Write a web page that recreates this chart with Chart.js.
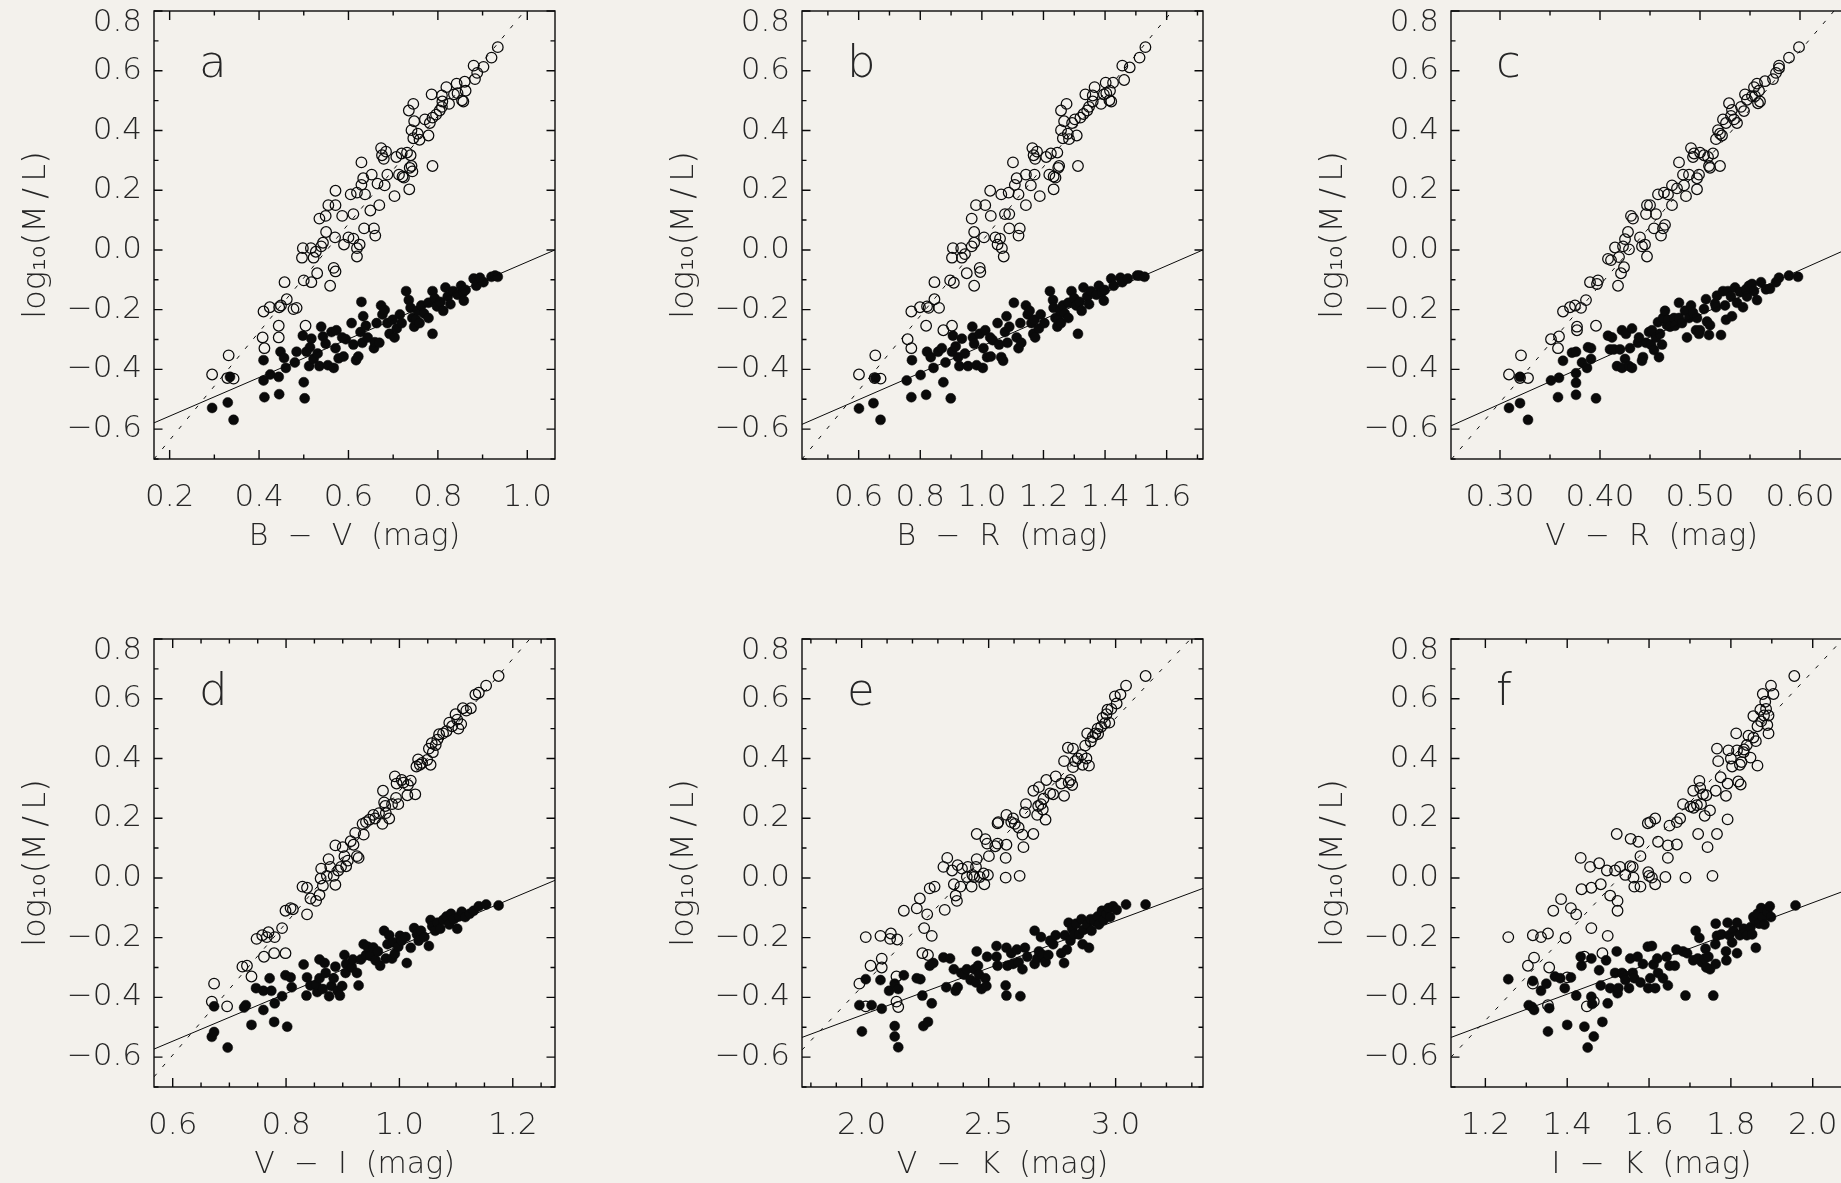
<!DOCTYPE html>
<html>
<head>
<meta charset="utf-8">
<script src="https://cdn.jsdelivr.net/npm/chart.js@4.4.1/dist/chart.umd.min.js"></script>
<style>
  html, body { margin: 0; padding: 0; }
  body { width: 1841px; height: 1183px; overflow: hidden; position: relative; background: #f3f1ec; }
  canvas { position: absolute; }
</style>
</head>
<body>
<canvas id="pa" width="648" height="628" style="left:0px;top:0px"></canvas>
<canvas id="pb" width="648" height="628" style="left:648px;top:0px"></canvas>
<canvas id="pc" width="648" height="628" style="left:1297px;top:0px"></canvas>
<canvas id="pd" width="648" height="628" style="left:0px;top:628px"></canvas>
<canvas id="pe" width="648" height="628" style="left:648px;top:628px"></canvas>
<canvas id="pf" width="648" height="628" style="left:1297px;top:628px"></canvas>
<script>
// ---- shared y axis ----
const yTicks = [-0.6, -0.4, -0.2, 0.0, 0.2, 0.4, 0.6, 0.8];
const yRange = [-0.7, 0.8];
const yTitle = 'log\u2081\u2080(M\u2009/\u2009L)';

// ---- panel a : B - V ----
const aTicks = [0.2, 0.4, 0.6, 0.8, 1.0];
const aRange = [0.165, 1.062];
const aFitFilled = [[0.165, -0.579], [1.062, 0.0]];
const aFitOpen = [[0.165, -0.70], [0.994, 0.80]];
const aFilled = [[0.295,-0.529],[0.330,-0.511],[0.343,-0.569],[0.335,-0.425],[0.410,-0.437],[0.412,-0.493],[0.410,-0.369],[0.425,-0.417],[0.444,-0.425],[0.445,-0.483],[0.448,-0.341],[0.456,-0.362],[0.460,-0.395],[0.480,-0.377],[0.500,-0.443],[0.502,-0.497],[0.484,-0.341],[0.498,-0.287],[0.506,-0.341],[0.514,-0.326],[0.512,-0.389],[0.517,-0.297],[0.522,-0.365],[0.531,-0.347],[0.535,-0.389],[0.539,-0.257],[0.543,-0.290],[0.549,-0.314],[0.554,-0.386],[0.562,-0.275],[0.567,-0.395],[0.571,-0.329],[0.573,-0.269],[0.578,-0.363],[0.586,-0.293],[0.589,-0.357],[0.594,-0.299],[0.607,-0.245],[0.611,-0.317],[0.617,-0.369],[0.622,-0.357],[0.627,-0.275],[0.633,-0.222],[0.629,-0.174],[0.639,-0.254],[0.631,-0.311],[0.643,-0.293],[0.657,-0.329],[0.659,-0.309],[0.663,-0.245],[0.669,-0.311],[0.673,-0.186],[0.676,-0.216],[0.681,-0.201],[0.687,-0.245],[0.692,-0.281],[0.699,-0.234],[0.703,-0.293],[0.708,-0.263],[0.715,-0.216],[0.719,-0.245],[0.729,-0.138],[0.735,-0.168],[0.739,-0.194],[0.743,-0.228],[0.747,-0.257],[0.751,-0.234],[0.755,-0.204],[0.759,-0.245],[0.763,-0.186],[0.769,-0.213],[0.779,-0.177],[0.779,-0.228],[0.788,-0.281],[0.788,-0.138],[0.793,-0.162],[0.798,-0.189],[0.806,-0.174],[0.812,-0.204],[0.817,-0.126],[0.822,-0.156],[0.828,-0.182],[0.834,-0.138],[0.844,-0.150],[0.852,-0.120],[0.857,-0.141],[0.858,-0.170],[0.862,-0.134],[0.880,-0.096],[0.886,-0.120],[0.894,-0.093],[0.902,-0.108],[0.920,-0.090],[0.928,-0.086],[0.934,-0.090]];
const aOpen = [[0.295,-0.417],[0.332,-0.353],[0.329,-0.429],[0.343,-0.431],[0.408,-0.293],[0.412,-0.329],[0.410,-0.206],[0.424,-0.192],[0.445,-0.192],[0.449,-0.186],[0.444,-0.254],[0.444,-0.293],[0.457,-0.108],[0.462,-0.165],[0.477,-0.198],[0.484,-0.194],[0.500,-0.102],[0.504,-0.254],[0.498,0.006],[0.496,-0.026],[0.517,-0.108],[0.530,-0.078],[0.516,0.006],[0.522,-0.026],[0.527,-0.006],[0.539,0.012],[0.535,0.105],[0.549,0.114],[0.543,0.024],[0.550,0.060],[0.559,-0.120],[0.567,-0.060],[0.571,-0.072],[0.555,0.150],[0.571,0.150],[0.570,0.042],[0.571,0.198],[0.586,0.114],[0.590,0.018],[0.600,0.042],[0.605,0.186],[0.611,0.120],[0.611,0.038],[0.619,0.192],[0.619,0.006],[0.619,-0.022],[0.625,0.018],[0.629,0.293],[0.629,0.218],[0.633,0.240],[0.637,0.186],[0.635,0.072],[0.649,0.132],[0.652,0.252],[0.657,0.072],[0.660,0.048],[0.669,0.150],[0.665,0.222],[0.673,0.341],[0.675,0.317],[0.679,0.305],[0.681,0.216],[0.684,0.329],[0.687,0.252],[0.703,0.180],[0.707,0.311],[0.713,0.252],[0.719,0.323],[0.721,0.246],[0.724,0.242],[0.731,0.326],[0.736,0.203],[0.737,0.275],[0.735,0.467],[0.739,0.317],[0.741,0.281],[0.743,0.263],[0.741,0.401],[0.745,0.489],[0.747,0.431],[0.745,0.374],[0.755,0.389],[0.759,0.369],[0.771,0.437],[0.779,0.383],[0.788,0.281],[0.786,0.521],[0.782,0.425],[0.788,0.443],[0.796,0.453],[0.804,0.467],[0.809,0.479],[0.810,0.497],[0.809,0.517],[0.819,0.545],[0.825,0.489],[0.836,0.521],[0.842,0.557],[0.844,0.525],[0.854,0.501],[0.857,0.497],[0.862,0.533],[0.860,0.563],[0.880,0.617],[0.883,0.572],[0.888,0.593],[0.902,0.613],[0.920,0.644],[0.934,0.679]];

// ---- panel b : B - R ----
const bTicks = [0.6, 0.8, 1.0, 1.2, 1.4, 1.6];
const bRange = [0.416, 1.718];
const bFitFilled = [[0.416, -0.584], [1.718, 0.0]];
const bFitOpen = [[0.416, -0.70], [1.618, 0.80]];
const bFilled = [[0.601,-0.531],[0.648,-0.513],[0.671,-0.569],[0.654,-0.429],[0.756,-0.437],[0.771,-0.493],[0.773,-0.369],[0.801,-0.419],[0.819,-0.485],[0.822,-0.341],[0.834,-0.359],[0.843,-0.395],[0.875,-0.443],[0.899,-0.497],[0.858,-0.341],[0.870,-0.329],[0.882,-0.377],[0.906,-0.287],[0.903,-0.341],[0.915,-0.323],[0.923,-0.359],[0.927,-0.389],[0.935,-0.297],[0.945,-0.347],[0.955,-0.389],[0.969,-0.257],[0.971,-0.293],[0.975,-0.314],[0.983,-0.386],[0.993,-0.281],[1.003,-0.395],[1.005,-0.329],[1.011,-0.269],[1.017,-0.359],[1.027,-0.293],[1.029,-0.357],[1.035,-0.302],[1.051,-0.245],[1.056,-0.317],[1.063,-0.359],[1.069,-0.371],[1.075,-0.275],[1.080,-0.222],[1.089,-0.257],[1.083,-0.311],[1.104,-0.177],[1.113,-0.293],[1.119,-0.329],[1.125,-0.245],[1.128,-0.311],[1.143,-0.186],[1.149,-0.216],[1.155,-0.204],[1.161,-0.245],[1.167,-0.281],[1.171,-0.234],[1.173,-0.293],[1.185,-0.263],[1.191,-0.216],[1.203,-0.245],[1.221,-0.138],[1.231,-0.168],[1.233,-0.194],[1.239,-0.228],[1.245,-0.257],[1.248,-0.234],[1.255,-0.204],[1.257,-0.245],[1.263,-0.186],[1.269,-0.213],[1.281,-0.177],[1.281,-0.228],[1.312,-0.281],[1.291,-0.138],[1.300,-0.162],[1.306,-0.186],[1.318,-0.174],[1.324,-0.204],[1.330,-0.126],[1.342,-0.156],[1.348,-0.182],[1.354,-0.138],[1.372,-0.150],[1.380,-0.120],[1.390,-0.141],[1.396,-0.170],[1.399,-0.134],[1.420,-0.096],[1.428,-0.120],[1.450,-0.093],[1.456,-0.108],[1.474,-0.096],[1.504,-0.086],[1.512,-0.086],[1.528,-0.090]];
const bOpen = [[0.601,-0.417],[0.654,-0.353],[0.652,-0.429],[0.671,-0.431],[0.759,-0.299],[0.771,-0.329],[0.771,-0.206],[0.799,-0.192],[0.822,-0.189],[0.827,-0.194],[0.819,-0.254],[0.846,-0.165],[0.846,-0.108],[0.861,-0.194],[0.875,-0.269],[0.897,-0.102],[0.903,-0.254],[0.909,-0.110],[0.906,0.006],[0.903,-0.026],[0.933,0.006],[0.935,-0.026],[0.951,-0.078],[0.945,-0.014],[0.967,0.012],[0.967,0.105],[0.975,0.024],[0.975,0.060],[0.975,-0.120],[0.993,-0.060],[0.995,-0.074],[0.981,0.150],[1.011,0.150],[1.007,0.042],[1.027,0.198],[1.029,0.114],[1.051,0.018],[1.044,0.042],[1.063,0.186],[1.075,0.120],[1.059,0.038],[1.087,0.192],[1.065,0.006],[1.071,-0.022],[1.101,0.293],[1.107,0.218],[1.113,0.240],[1.119,0.186],[1.089,0.072],[1.089,0.120],[1.123,0.072],[1.119,0.048],[1.143,0.150],[1.143,0.252],[1.159,0.216],[1.164,0.341],[1.168,0.317],[1.173,0.305],[1.171,0.252],[1.179,0.329],[1.188,0.180],[1.209,0.311],[1.219,0.252],[1.224,0.323],[1.233,0.246],[1.239,0.242],[1.233,0.203],[1.245,0.326],[1.248,0.275],[1.251,0.281],[1.257,0.467],[1.257,0.401],[1.263,0.374],[1.267,0.431],[1.275,0.489],[1.279,0.389],[1.283,0.371],[1.293,0.425],[1.302,0.437],[1.312,0.281],[1.308,0.383],[1.320,0.443],[1.330,0.455],[1.336,0.521],[1.342,0.467],[1.348,0.479],[1.360,0.497],[1.366,0.545],[1.360,0.517],[1.387,0.489],[1.396,0.521],[1.402,0.560],[1.404,0.525],[1.414,0.501],[1.420,0.497],[1.416,0.533],[1.426,0.560],[1.456,0.617],[1.462,0.569],[1.480,0.611],[1.512,0.644],[1.531,0.679]];

// ---- panel c : V - R ----
const cTicks = [0.30, 0.40, 0.50, 0.60];
const cRange = [0.251, 0.652];
const cFitFilled = [[0.251, -0.589], [0.652, 0.01]];
const cFitOpen = [[0.2516, -0.70], [0.634, 0.80]];
const cFilled = [[0.309,-0.529],[0.320,-0.513],[0.328,-0.569],[0.320,-0.425],[0.351,-0.437],[0.358,-0.493],[0.359,-0.428],[0.363,-0.371],[0.372,-0.344],[0.376,-0.341],[0.376,-0.413],[0.376,-0.445],[0.376,-0.485],[0.382,-0.377],[0.387,-0.395],[0.391,-0.365],[0.396,-0.497],[0.388,-0.326],[0.391,-0.329],[0.408,-0.287],[0.410,-0.333],[0.412,-0.293],[0.414,-0.333],[0.417,-0.389],[0.420,-0.333],[0.422,-0.269],[0.422,-0.395],[0.425,-0.365],[0.426,-0.281],[0.429,-0.389],[0.432,-0.263],[0.430,-0.329],[0.432,-0.395],[0.438,-0.311],[0.439,-0.293],[0.442,-0.371],[0.443,-0.359],[0.446,-0.311],[0.449,-0.275],[0.451,-0.317],[0.452,-0.269],[0.454,-0.335],[0.456,-0.293],[0.458,-0.242],[0.459,-0.359],[0.460,-0.281],[0.462,-0.317],[0.463,-0.228],[0.465,-0.204],[0.467,-0.252],[0.468,-0.234],[0.470,-0.257],[0.474,-0.228],[0.475,-0.254],[0.479,-0.177],[0.479,-0.228],[0.482,-0.245],[0.485,-0.204],[0.487,-0.293],[0.489,-0.228],[0.491,-0.186],[0.493,-0.210],[0.496,-0.269],[0.497,-0.228],[0.499,-0.281],[0.500,-0.269],[0.504,-0.198],[0.506,-0.165],[0.507,-0.240],[0.509,-0.285],[0.510,-0.252],[0.515,-0.180],[0.516,-0.192],[0.517,-0.153],[0.521,-0.285],[0.523,-0.138],[0.525,-0.186],[0.526,-0.234],[0.528,-0.138],[0.531,-0.156],[0.532,-0.222],[0.535,-0.126],[0.537,-0.177],[0.540,-0.141],[0.543,-0.192],[0.546,-0.132],[0.547,-0.156],[0.549,-0.120],[0.552,-0.114],[0.554,-0.138],[0.557,-0.168],[0.561,-0.108],[0.566,-0.132],[0.570,-0.130],[0.576,-0.108],[0.579,-0.093],[0.589,-0.086],[0.598,-0.090]];
const cOpen = [[0.309,-0.417],[0.321,-0.353],[0.320,-0.429],[0.328,-0.429],[0.351,-0.299],[0.358,-0.329],[0.359,-0.290],[0.363,-0.206],[0.370,-0.192],[0.375,-0.186],[0.377,-0.257],[0.377,-0.269],[0.381,-0.194],[0.386,-0.168],[0.396,-0.254],[0.390,-0.108],[0.398,-0.102],[0.397,-0.114],[0.408,-0.030],[0.411,-0.034],[0.418,-0.120],[0.415,0.008],[0.421,-0.078],[0.424,-0.058],[0.419,-0.024],[0.423,0.012],[0.425,0.036],[0.428,0.060],[0.431,0.114],[0.433,0.105],[0.429,0.002],[0.440,0.042],[0.442,0.012],[0.445,0.018],[0.447,-0.022],[0.446,0.120],[0.447,0.150],[0.450,0.150],[0.456,0.120],[0.454,0.072],[0.458,0.186],[0.461,0.048],[0.463,0.072],[0.464,0.192],[0.465,0.084],[0.468,0.186],[0.472,0.150],[0.472,0.216],[0.477,0.206],[0.479,0.293],[0.483,0.252],[0.484,0.216],[0.486,0.180],[0.489,0.252],[0.491,0.341],[0.493,0.311],[0.494,0.323],[0.497,0.240],[0.497,0.203],[0.499,0.252],[0.500,0.326],[0.504,0.317],[0.508,0.311],[0.509,0.281],[0.510,0.275],[0.513,0.323],[0.516,0.371],[0.518,0.401],[0.520,0.281],[0.520,0.389],[0.522,0.383],[0.523,0.437],[0.526,0.425],[0.531,0.449],[0.529,0.491],[0.532,0.469],[0.534,0.437],[0.537,0.425],[0.541,0.479],[0.544,0.465],[0.545,0.521],[0.547,0.503],[0.552,0.515],[0.554,0.545],[0.555,0.515],[0.558,0.491],[0.557,0.557],[0.559,0.533],[0.560,0.497],[0.565,0.565],[0.573,0.572],[0.576,0.593],[0.579,0.617],[0.579,0.608],[0.589,0.644],[0.599,0.679]];

// ---- panel d : V - I ----
const dTicks = [0.6, 0.8, 1.0, 1.2];
const dRange = [0.567, 1.2745];
const dFitFilled = [[0.567, -0.573], [1.2745, -0.008]];
const dFitOpen = [[0.567, -0.666], [1.230, 0.80]];
const dFilled = [[0.669,-0.532],[0.673,-0.516],[0.697,-0.568],[0.673,-0.430],[0.726,-0.434],[0.739,-0.492],[0.729,-0.426],[0.747,-0.369],[0.760,-0.378],[0.760,-0.442],[0.771,-0.336],[0.774,-0.378],[0.780,-0.420],[0.779,-0.482],[0.793,-0.396],[0.799,-0.326],[0.802,-0.498],[0.808,-0.333],[0.810,-0.366],[0.831,-0.290],[0.836,-0.394],[0.837,-0.333],[0.843,-0.360],[0.855,-0.382],[0.853,-0.357],[0.859,-0.336],[0.859,-0.273],[0.865,-0.372],[0.868,-0.285],[0.870,-0.318],[0.876,-0.396],[0.880,-0.362],[0.884,-0.336],[0.887,-0.297],[0.891,-0.378],[0.895,-0.394],[0.899,-0.362],[0.903,-0.258],[0.905,-0.318],[0.906,-0.288],[0.916,-0.300],[0.918,-0.273],[0.925,-0.318],[0.928,-0.360],[0.932,-0.273],[0.937,-0.222],[0.941,-0.258],[0.944,-0.230],[0.949,-0.261],[0.954,-0.233],[0.958,-0.276],[0.962,-0.246],[0.966,-0.294],[0.973,-0.177],[0.976,-0.270],[0.979,-0.222],[0.982,-0.192],[0.987,-0.270],[0.989,-0.216],[0.992,-0.254],[0.998,-0.230],[1.001,-0.194],[1.004,-0.210],[1.011,-0.198],[1.013,-0.285],[1.020,-0.234],[1.026,-0.168],[1.031,-0.189],[1.034,-0.210],[1.038,-0.177],[1.044,-0.198],[1.052,-0.228],[1.055,-0.141],[1.058,-0.162],[1.063,-0.177],[1.067,-0.150],[1.072,-0.170],[1.077,-0.141],[1.083,-0.129],[1.088,-0.156],[1.091,-0.120],[1.096,-0.138],[1.102,-0.170],[1.105,-0.129],[1.110,-0.113],[1.116,-0.131],[1.124,-0.120],[1.131,-0.110],[1.140,-0.095],[1.153,-0.089],[1.175,-0.092]];
const dOpen = [[0.673,-0.354],[0.669,-0.414],[0.696,-0.430],[0.723,-0.297],[0.731,-0.294],[0.739,-0.330],[0.748,-0.204],[0.758,-0.192],[0.761,-0.264],[0.766,-0.198],[0.769,-0.182],[0.780,-0.198],[0.779,-0.252],[0.793,-0.168],[0.799,-0.252],[0.799,-0.110],[0.808,-0.101],[0.812,-0.105],[0.837,-0.122],[0.829,-0.029],[0.837,-0.033],[0.843,-0.069],[0.853,-0.077],[0.859,-0.057],[0.861,-0.002],[0.862,0.031],[0.865,-0.026],[0.872,0.007],[0.875,0.063],[0.878,0.037],[0.884,0.007],[0.887,-0.023],[0.887,0.109],[0.892,0.025],[0.897,0.037],[0.900,0.103],[0.903,0.073],[0.906,0.039],[0.909,0.058],[0.914,0.123],[0.919,0.111],[0.922,0.151],[0.925,0.073],[0.928,0.067],[0.935,0.181],[0.937,0.145],[0.941,0.187],[0.947,0.195],[0.954,0.211],[0.957,0.199],[0.964,0.217],[0.970,0.181],[0.971,0.292],[0.973,0.253],[0.975,0.241],[0.976,0.217],[0.982,0.199],[0.987,0.247],[0.992,0.340],[0.995,0.316],[0.994,0.268],[0.998,0.247],[1.004,0.328],[1.007,0.319],[1.014,0.277],[1.015,0.311],[1.020,0.326],[1.028,0.280],[1.030,0.373],[1.033,0.397],[1.036,0.379],[1.040,0.385],[1.049,0.395],[1.055,0.379],[1.052,0.433],[1.057,0.451],[1.059,0.421],[1.064,0.445],[1.067,0.463],[1.070,0.481],[1.077,0.484],[1.083,0.491],[1.088,0.520],[1.093,0.508],[1.099,0.548],[1.102,0.530],[1.104,0.500],[1.109,0.515],[1.112,0.568],[1.118,0.560],[1.126,0.568],[1.134,0.614],[1.140,0.620],[1.153,0.644],[1.175,0.676]];

// ---- panel e : V - K ----
const eTicks = [2.0, 2.5, 3.0];
const eRange = [1.765, 3.344];
const eFitFilled = [[1.765, -0.534], [3.344, -0.035]];
const eFitOpen = [[1.765, -0.576], [3.295, 0.80]];
const eFilled = [[1.991,-0.426],[2.001,-0.514],[2.039,-0.426],[2.016,-0.339],[2.079,-0.438],[2.074,-0.342],[2.130,-0.496],[2.130,-0.531],[2.144,-0.567],[2.108,-0.378],[2.130,-0.354],[2.144,-0.372],[2.166,-0.326],[2.217,-0.336],[2.231,-0.339],[2.239,-0.394],[2.243,-0.496],[2.261,-0.482],[2.276,-0.420],[2.268,-0.294],[2.282,-0.285],[2.322,-0.266],[2.333,-0.366],[2.348,-0.270],[2.363,-0.306],[2.370,-0.378],[2.378,-0.366],[2.392,-0.318],[2.404,-0.324],[2.414,-0.306],[2.429,-0.342],[2.443,-0.306],[2.450,-0.350],[2.453,-0.246],[2.458,-0.294],[2.462,-0.324],[2.472,-0.372],[2.487,-0.336],[2.491,-0.362],[2.494,-0.264],[2.531,-0.228],[2.531,-0.264],[2.535,-0.294],[2.570,-0.234],[2.567,-0.360],[2.570,-0.394],[2.574,-0.294],[2.589,-0.252],[2.596,-0.288],[2.611,-0.240],[2.618,-0.282],[2.625,-0.396],[2.633,-0.306],[2.643,-0.234],[2.652,-0.264],[2.681,-0.177],[2.681,-0.288],[2.691,-0.270],[2.698,-0.246],[2.706,-0.198],[2.713,-0.258],[2.724,-0.282],[2.735,-0.258],[2.742,-0.210],[2.754,-0.222],[2.764,-0.192],[2.786,-0.252],[2.797,-0.285],[2.800,-0.192],[2.808,-0.240],[2.815,-0.150],[2.822,-0.210],[2.829,-0.170],[2.837,-0.189],[2.844,-0.153],[2.856,-0.189],[2.866,-0.138],[2.870,-0.222],[2.873,-0.174],[2.888,-0.156],[2.895,-0.234],[2.902,-0.138],[2.905,-0.177],[2.917,-0.146],[2.929,-0.129],[2.934,-0.156],[2.946,-0.110],[2.953,-0.141],[2.964,-0.120],[2.972,-0.101],[2.978,-0.131],[2.990,-0.095],[3.004,-0.107],[3.041,-0.089],[3.118,-0.089]];
const eOpen = [[1.991,-0.354],[2.016,-0.198],[2.035,-0.294],[2.016,-0.430],[2.074,-0.194],[2.079,-0.270],[2.079,-0.300],[2.115,-0.186],[2.112,-0.204],[2.140,-0.206],[2.137,-0.330],[2.137,-0.414],[2.144,-0.432],[2.166,-0.110],[2.217,-0.102],[2.229,-0.069],[2.239,-0.252],[2.246,-0.168],[2.258,-0.122],[2.261,-0.258],[2.268,-0.035],[2.276,-0.194],[2.287,-0.029],[2.327,-0.107],[2.322,0.037],[2.337,0.067],[2.356,0.025],[2.363,-0.021],[2.370,-0.059],[2.375,-0.077],[2.378,0.043],[2.389,-0.029],[2.395,0.031],[2.414,0.003],[2.418,0.037],[2.433,-0.029],[2.436,0.010],[2.443,0.003],[2.450,0.037],[2.453,0.147],[2.453,0.063],[2.465,0.003],[2.480,0.015],[2.483,-0.021],[2.487,0.130],[2.494,0.115],[2.497,0.010],[2.501,0.073],[2.526,0.106],[2.535,0.115],[2.535,0.183],[2.538,0.187],[2.567,0.001],[2.567,0.067],[2.570,0.111],[2.570,0.211],[2.589,0.187],[2.596,0.199],[2.603,0.181],[2.618,0.169],[2.622,0.007],[2.633,0.145],[2.637,0.103],[2.647,0.247],[2.643,0.219],[2.676,0.147],[2.676,0.292],[2.691,0.211],[2.695,0.241],[2.698,0.304],[2.706,0.247],[2.713,0.229],[2.724,0.195],[2.716,0.265],[2.727,0.328],[2.742,0.283],[2.754,0.280],[2.764,0.340],[2.786,0.316],[2.797,0.275],[2.797,0.391],[2.812,0.436],[2.815,0.319],[2.822,0.328],[2.829,0.311],[2.832,0.371],[2.832,0.433],[2.841,0.391],[2.851,0.400],[2.866,0.412],[2.870,0.379],[2.880,0.443],[2.885,0.400],[2.888,0.484],[2.895,0.376],[2.902,0.457],[2.910,0.472],[2.920,0.484],[2.929,0.500],[2.931,0.482],[2.943,0.506],[2.949,0.536],[2.958,0.518],[2.964,0.548],[2.968,0.563],[2.975,0.520],[2.983,0.566],[2.997,0.608],[3.004,0.584],[3.019,0.614],[3.041,0.644],[3.118,0.676]];

// ---- panel f : I - K ----
const fTicks = [1.2, 1.4, 1.6, 1.8, 2.0];
const fRange = [1.116, 2.096];
const fFitFilled = [[1.116, -0.534], [2.096, -0.034]];
const fFitOpen = [[1.116, -0.60], [2.074, 0.80]];
const fFilled = [[1.256,-0.339],[1.316,-0.345],[1.306,-0.426],[1.314,-0.432],[1.319,-0.442],[1.336,-0.378],[1.349,-0.354],[1.353,-0.514],[1.356,-0.436],[1.370,-0.330],[1.383,-0.336],[1.394,-0.369],[1.400,-0.492],[1.409,-0.333],[1.422,-0.394],[1.433,-0.264],[1.435,-0.294],[1.442,-0.498],[1.450,-0.568],[1.459,-0.398],[1.461,-0.422],[1.465,-0.531],[1.459,-0.270],[1.478,-0.309],[1.482,-0.360],[1.486,-0.482],[1.495,-0.276],[1.499,-0.420],[1.505,-0.369],[1.517,-0.318],[1.521,-0.246],[1.523,-0.386],[1.525,-0.369],[1.534,-0.318],[1.538,-0.324],[1.542,-0.342],[1.554,-0.270],[1.551,-0.369],[1.560,-0.318],[1.564,-0.336],[1.572,-0.264],[1.579,-0.350],[1.585,-0.288],[1.597,-0.230],[1.598,-0.369],[1.603,-0.336],[1.607,-0.228],[1.611,-0.290],[1.615,-0.369],[1.620,-0.270],[1.622,-0.318],[1.634,-0.336],[1.643,-0.264],[1.646,-0.360],[1.650,-0.294],[1.663,-0.294],[1.667,-0.240],[1.683,-0.246],[1.689,-0.394],[1.693,-0.252],[1.708,-0.276],[1.714,-0.177],[1.719,-0.270],[1.723,-0.201],[1.729,-0.282],[1.736,-0.270],[1.738,-0.237],[1.740,-0.300],[1.745,-0.264],[1.749,-0.306],[1.757,-0.394],[1.762,-0.222],[1.763,-0.288],[1.763,-0.153],[1.766,-0.194],[1.777,-0.189],[1.788,-0.246],[1.789,-0.276],[1.792,-0.150],[1.796,-0.192],[1.803,-0.216],[1.806,-0.177],[1.815,-0.150],[1.815,-0.252],[1.822,-0.192],[1.831,-0.170],[1.839,-0.192],[1.848,-0.165],[1.852,-0.189],[1.855,-0.131],[1.858,-0.141],[1.861,-0.234],[1.865,-0.120],[1.869,-0.153],[1.874,-0.101],[1.878,-0.131],[1.882,-0.156],[1.889,-0.113],[1.895,-0.095],[1.898,-0.131],[1.958,-0.092]];
const fOpen = [[1.256,-0.198],[1.316,-0.192],[1.319,-0.267],[1.304,-0.294],[1.316,-0.354],[1.336,-0.198],[1.353,-0.186],[1.356,-0.300],[1.353,-0.426],[1.366,-0.110],[1.385,-0.071],[1.396,-0.201],[1.400,-0.333],[1.409,-0.101],[1.422,-0.122],[1.433,0.067],[1.435,-0.038],[1.442,-0.264],[1.448,-0.430],[1.456,0.037],[1.459,-0.033],[1.459,-0.168],[1.465,-0.414],[1.478,0.049],[1.482,-0.021],[1.486,-0.252],[1.497,0.025],[1.499,-0.194],[1.505,-0.059],[1.517,0.025],[1.523,-0.077],[1.523,-0.110],[1.521,0.147],[1.529,0.037],[1.542,0.010],[1.554,0.039],[1.555,0.131],[1.560,0.037],[1.562,0.001],[1.564,-0.029],[1.574,0.121],[1.579,0.073],[1.579,-0.029],[1.597,0.183],[1.603,0.187],[1.598,0.019],[1.600,0.007],[1.607,0.001],[1.615,-0.021],[1.615,0.199],[1.622,0.121],[1.640,0.003],[1.646,0.067],[1.646,0.109],[1.650,0.175],[1.668,0.112],[1.668,0.187],[1.676,0.199],[1.683,0.247],[1.689,0.001],[1.701,0.239],[1.708,0.292],[1.709,0.235],[1.717,0.244],[1.720,0.147],[1.723,0.325],[1.725,0.301],[1.727,0.247],[1.732,0.280],[1.736,0.208],[1.740,0.277],[1.743,0.103],[1.749,0.226],[1.755,0.007],[1.763,0.292],[1.766,0.147],[1.766,0.433],[1.769,0.391],[1.775,0.337],[1.788,0.275],[1.792,0.316],[1.792,0.196],[1.794,0.427],[1.800,0.400],[1.803,0.373],[1.813,0.484],[1.815,0.427],[1.818,0.323],[1.822,0.379],[1.824,0.313],[1.826,0.388],[1.831,0.421],[1.832,0.430],[1.839,0.445],[1.843,0.476],[1.848,0.403],[1.855,0.470],[1.861,0.458],[1.865,0.376],[1.855,0.542],[1.865,0.508],[1.872,0.563],[1.874,0.524],[1.878,0.616],[1.881,0.544],[1.884,0.590],[1.886,0.566],[1.889,0.512],[1.892,0.544],[1.892,0.484],[1.898,0.644],[1.904,0.616],[1.955,0.676]];

// ---- drawing ----
const FONT = "'DejaVu Sans', 'Noto Sans', sans-serif";
const TEXT = '#262626';
const INK = '#0a0a0a';

const fmt = (v, d) => {
  const s = (Math.abs(v) < 1e-9 ? 0 : v).toFixed(d);
  return s.replace('-', '\u2212');
};

// box frame with inward major/minor tick marks on all four sides
const frameTicks = {
  id: 'frameTicks',
  afterDatasetsDraw(chart, args, o) {
    const {ctx, chartArea: ca, scales: {x, y}} = chart;
    ctx.save();
    ctx.strokeStyle = INK;
    ctx.lineWidth = 1.4;
    ctx.beginPath();
    const seg = (x1, y1, x2, y2) => { ctx.moveTo(x1, y1); ctx.lineTo(x2, y2); };
    const walk = (scale, minor, major, fn) => {
      const k0 = Math.ceil(scale.min / minor - 1e-6);
      for (let k = k0; k * minor <= scale.max + 1e-9; k++) {
        const v = k * minor;
        const r = v / major;
        fn(scale.getPixelForValue(v), Math.abs(r - Math.round(r)) < 1e-6);
      }
    };
    walk(x, o.xMinor, o.xMajor, (p, big) => {
      const L = big ? 9 : 4.5;
      seg(p, ca.bottom, p, ca.bottom - L);
      seg(p, ca.top, p, ca.top + L);
    });
    walk(y, 0.1, 0.2, (p, big) => {
      const L = big ? 8.5 : 4.5;
      seg(ca.left, p, ca.left + L, p);
      seg(ca.right, p, ca.right - L, p);
    });
    ctx.stroke();
    ctx.strokeRect(ca.left, ca.top, ca.right - ca.left, ca.bottom - ca.top);
    ctx.restore();
  }
};

// panel letter in the upper-left corner of the box
const panelTag = {
  id: 'panelTag',
  afterDraw(chart, args, o) {
    const {ctx, chartArea: ca} = chart;
    ctx.save();
    ctx.fillStyle = TEXT;
    ctx.font = `200 45px ${FONT}`;
    ctx.textAlign = 'left';
    ctx.textBaseline = 'alphabetic';
    ctx.fillText(o.text, ca.left + 45, ca.top + 66);
    ctx.restore();
  }
};

const noPad = s => { s.paddingTop = 0; s.paddingBottom = 0; s.paddingLeft = 0; s.paddingRight = 0; };

// the top y label sits just below the upper edge of the box
const yLabel = v => (Math.abs(v - yRange[1]) < 1e-9 ? ['', fmt(v, 1)] : fmt(v, 1));

function panel(id, tag, title, ticks, range, dec, xMinor, xMajor, open, filled, fitOpen, fitFilled) {
  const line = (pts, dash) => ({
    type: 'line', data: pts.map(p => ({x: p[0], y: p[1]})),
    borderColor: INK, borderWidth: 1, borderDash: dash, pointRadius: 0, fill: false, tension: 0
  });
  new Chart(document.getElementById(id), {
    type: 'scatter',
    data: {
      datasets: [
        line(fitOpen, [4, 9]),
        line(fitFilled, []),
        { data: open.map(p => ({x: p[0], y: p[1]})), pointStyle: 'circle', pointRadius: 5.3,
          pointBorderWidth: 1.25, pointBackgroundColor: 'rgba(0,0,0,0)', pointBorderColor: INK },
        { data: filled.map(p => ({x: p[0], y: p[1]})), pointStyle: 'circle', pointRadius: 5,
          pointBorderWidth: 0.5, pointBackgroundColor: INK, pointBorderColor: INK }
      ]
    },
    options: {
      responsive: false, animation: false, devicePixelRatio: 1,
      layout: { padding: { left: 0, top: 11, right: 93, bottom: 0 } },
      plugins: { legend: { display: false }, tooltip: { enabled: false },
                 frameTicks: { xMinor, xMajor }, panelTag: { text: tag } },
      scales: {
        x: {
          type: 'linear', position: 'bottom', min: range[0], max: range[1], bounds: 'data',
          grid: { display: false, drawTicks: false }, border: { display: false },
          afterBuildTicks: s => { s.ticks = ticks.map(v => ({value: v})); },
          afterFit: s => { s.height = 169; noPad(s); },
          ticks: { autoSkip: false, maxRotation: 0, padding: 20, color: TEXT,
                   font: { family: FONT, size: 31, weight: '200' },
                   callback: v => fmt(v, dec) },
          title: { display: true, text: title, color: TEXT, padding: { top: 0, bottom: 73 },
                   font: { family: FONT, size: 30, weight: '200' } }
        },
        y: {
          type: 'linear', position: 'left', min: yRange[0], max: yRange[1], bounds: 'data',
          grid: { display: false, drawTicks: false }, border: { display: false },
          afterBuildTicks: s => { s.ticks = yTicks.map(v => ({value: v})); },
          afterFit: s => { s.width = 154; noPad(s); },
          ticks: { autoSkip: false, padding: 12, color: TEXT,
                   font: { family: FONT, size: 31, weight: '200', lineHeight: '24px' },
                   callback: yLabel },
          title: { display: true, text: yTitle, color: TEXT, padding: { top: 17, bottom: 0 },
                   font: { family: FONT, size: 32, weight: '200' } }
        }
      }
    },
    plugins: [frameTicks, panelTag]
  });
}

panel('pa', 'a', 'B  \u2212  V  (mag)', aTicks, aRange, 1, 0.1, 0.2, aOpen, aFilled, aFitOpen, aFitFilled);
panel('pb', 'b', 'B  \u2212  R  (mag)', bTicks, bRange, 1, 0.1, 0.2, bOpen, bFilled, bFitOpen, bFitFilled);
panel('pc', 'c', 'V  \u2212  R  (mag)', cTicks, cRange, 2, 0.05, 0.1, cOpen, cFilled, cFitOpen, cFitFilled);
panel('pd', 'd', 'V  \u2212  I  (mag)', dTicks, dRange, 1, 0.05, 0.2, dOpen, dFilled, dFitOpen, dFitFilled);
panel('pe', 'e', 'V  \u2212  K  (mag)', eTicks, eRange, 1, 0.1, 0.5, eOpen, eFilled, eFitOpen, eFitFilled);
panel('pf', 'f', 'I  \u2212  K  (mag)', fTicks, fRange, 1, 0.1, 0.2, fOpen, fFilled, fFitOpen, fFitFilled);
</script>
</body>
</html>
